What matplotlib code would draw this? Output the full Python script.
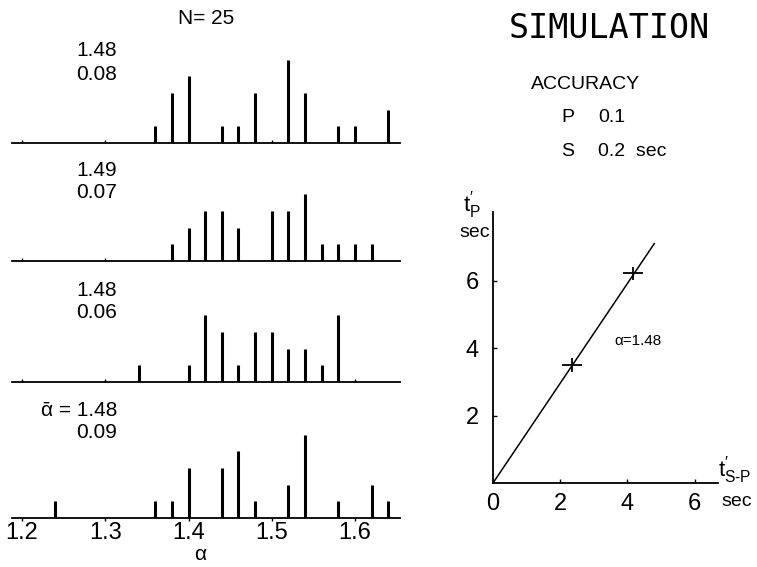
import matplotlib
matplotlib.use("Agg")
import matplotlib.pyplot as plt

plt.rcParams['font.family'] = ['Liberation Sans', 'DejaVu Sans']
plt.rcParams['mathtext.fontset'] = 'custom'
plt.rcParams['mathtext.rm'] = 'Liberation Sans'
plt.rcParams['mathtext.it'] = 'Liberation Sans'

# alpha histograms, N = 25 simulations each
alpha_1 = [1.36, 1.38, 1.40, 1.44, 1.46, 1.48, 1.52, 1.54, 1.58, 1.60, 1.64]
count_1 = [1, 3, 4, 1, 1, 3, 5, 3, 1, 1, 2]
alpha_2 = [1.38, 1.40, 1.42, 1.44, 1.46, 1.50, 1.52, 1.54, 1.56, 1.58, 1.60, 1.62]
count_2 = [1, 2, 3, 3, 2, 3, 3, 4, 1, 1, 1, 1]
alpha_3 = [1.34, 1.40, 1.42, 1.44, 1.46, 1.48, 1.50, 1.52, 1.54, 1.56, 1.58]
count_3 = [1, 1, 4, 3, 1, 3, 3, 2, 2, 1, 4]
alpha_4 = [1.24, 1.36, 1.38, 1.40, 1.44, 1.46, 1.48, 1.52, 1.54, 1.58, 1.62, 1.64]
count_4 = [1, 1, 1, 3, 3, 4, 1, 2, 5, 1, 2, 1]
means = ['1.48', '1.49', '1.48', '\u1fb1 = 1.48']
sds = ['0.08', '0.07', '0.06', '0.09']
alpha_ticks = [1.2, 1.3, 1.4, 1.5, 1.6]

# Wadati plot
tsp = [2.36, 4.16]
tp = [3.50, 6.22]
err_tsp = 0.3
err_tp = 0.2
alpha_fit = 1.48
line_x = [0, 4.8]

W, H = 757, 567
fig = plt.figure(figsize=(W / 100, H / 100), dpi=100)


def box(l, t, r, b):
    return [l / W, 1 - b / H, (r - l) / W, (b - t) / H]


def txt(x, y, s, **kw):
    fig.text(x / W, 1 - y / H, s, **kw)


baselines = [143, 261, 382, 518]
unit = 16.7
panels = [(alpha_1, count_1), (alpha_2, count_2), (alpha_3, count_3), (alpha_4, count_4)]
for i, (a, c) in enumerate(panels):
    b = baselines[i]
    ax = fig.add_axes(box(12, b - 6 * unit, 400, b))
    ax.vlines(a, 0, c, color='black', lw=2.2)
    ax.set_xlim(1.188, 1.654)
    ax.set_ylim(0, 6)
    for s in ['top', 'right', 'left']:
        ax.spines[s].set_visible(False)
    ax.spines['bottom'].set_linewidth(1.3)
    ax.set_yticks([])
    ax.set_xticks(alpha_ticks)
    if i == 3:
        ax.set_xticklabels([f'{v:.1f}' for v in alpha_ticks], fontsize=17)
        ax.tick_params(axis='x', length=2, width=1, pad=1)
    else:
        ax.set_xticklabels([])
        ax.tick_params(axis='x', length=2, width=1, direction='in')

label_y = [(50, 74), (170, 193), (290, 313), (410, 432)]
for i in range(4):
    txt(117, label_y[i][0], means[i], fontsize=15, ha='right', va='center')
    txt(117, label_y[i][1], sds[i], fontsize=15, ha='right', va='center')
txt(206, 18, 'N= 25', fontsize=15, ha='center', va='center')
txt(200, 555, '\u03b1', fontsize=15, ha='center', va='center')

txt(609, 28, 'SIMULATION', fontsize=24, ha='center', va='center',
    family=['DejaVu Sans Mono'])
txt(531, 85, 'ACCURACY', fontsize=14, ha='left', va='center')
txt(561, 118, 'P', fontsize=14, ha='left', va='center')
txt(598, 118, '0.1', fontsize=14, ha='left', va='center')
txt(561, 152, 'S', fontsize=14, ha='left', va='center')
txt(598, 152, '0.2  sec', fontsize=14, ha='left', va='center')

# right panel
ax = fig.add_axes(box(493, 483 - 8.05 * 33.7, 493 + 6.7 * 33.6, 483))
ax.plot(line_x, [alpha_fit * v for v in line_x], color='black', lw=1.1)
ax.errorbar(tsp, tp, xerr=err_tsp, yerr=err_tp, fmt='none', ecolor='black', elinewidth=1.3, capsize=0)
ax.set_xlim(0, 6.7)
ax.set_ylim(0, 8.05)
ax.spines['top'].set_visible(False)
ax.spines['right'].set_visible(False)
ax.spines['left'].set_linewidth(1.3)
ax.spines['bottom'].set_linewidth(1.3)
ax.set_xticks([0, 2, 4, 6])
ax.set_yticks([2, 4, 6])
ax.tick_params(direction='in', length=3, width=1, labelsize=17)
ax.tick_params(axis='x', pad=7)
ax.tick_params(axis='y', pad=10)
ax.text(3.6, 4.2, '\u03b1=1.48', fontsize=11, ha='left', va='center')

txt(472, 205, "$\\mathrm{t}^{\\prime}_{\\mathrm{P}}$", fontsize=16, ha='center', va='center')
txt(475, 233, 'sec', fontsize=14, ha='center', va='center')
txt(735, 470, "$\\mathrm{t}^{\\prime}_{\\mathrm{S\\text{-}P}}$", fontsize=16, ha='center', va='center')
txt(737, 502, 'sec', fontsize=14, ha='center', va='center')

fig.savefig('out.png', dpi=100)
